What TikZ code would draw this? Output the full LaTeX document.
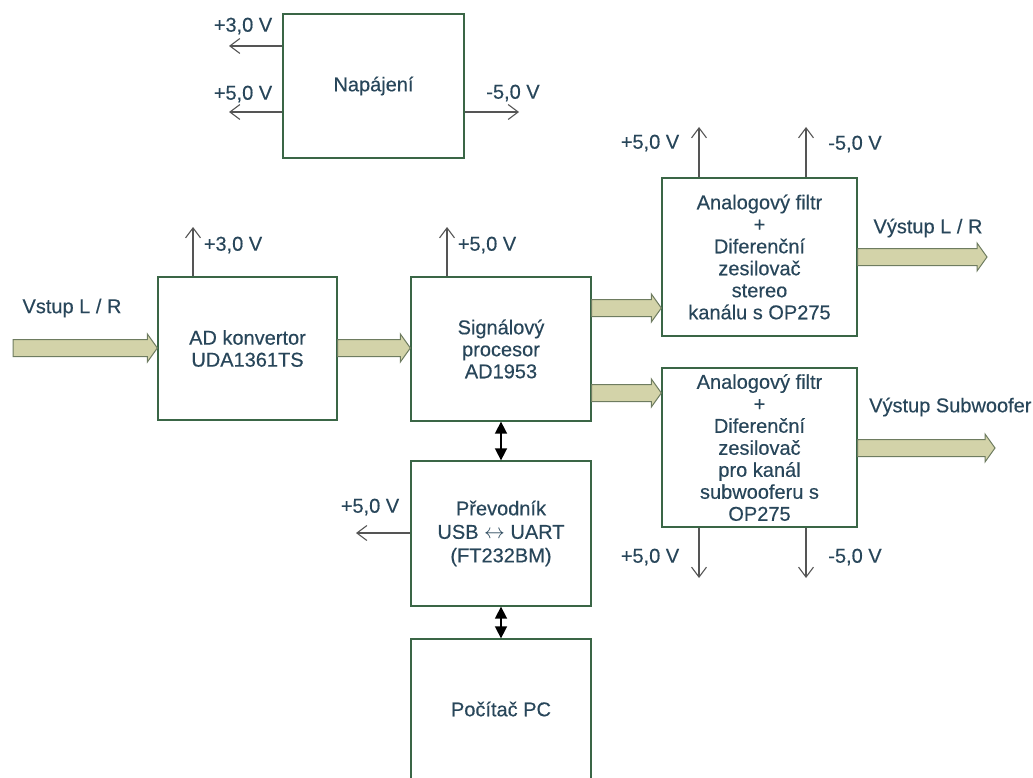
\documentclass[tikz,border=0pt]{standalone}
\usepackage{fontspec}
\setmainfont{Liberation Sans}[FakeBold=0.35]
\usetikzlibrary{calc,arrows.meta}
\definecolor{boxline}{HTML}{3A6646}
\definecolor{txt}{HTML}{28465A}
\definecolor{fatfill}{HTML}{D3D3A9}
\definecolor{fatline}{HTML}{6E7C60}
\definecolor{pwrline}{HTML}{555555}
% horizontal wide arrow from #1 to #2 (both named coordinates)
\newcommand{\fatarrow}[2]{%
  \draw[fatarrow] ($(#1)+(0,-8.5)$) -- ($(#2)+(-10,-8.5)$) -- ($(#2)+(-10,-14)$)
    -- (#2) -- ($(#2)+(-10,14)$) -- ($(#2)+(-10,8.5)$) -- ($(#1)+(0,8.5)$) -- cycle;}
\begin{document}
\begin{tikzpicture}[x=1pt,y=-1pt,
  block/.style={draw=boxline,line width=1.3pt,fill=white,align=center,
    text=txt,inner sep=0pt,font=\fontsize{20}{22}\selectfont},
  lbl/.style={text=txt,inner sep=0pt,font=\fontsize{20}{22}\selectfont},
  pwr/.style={draw=pwrline,line width=1.1pt,-{Straight Barb[length=10pt,width=15pt]}},
  bidir/.style={draw=black,line width=1.6pt,{Triangle[length=12pt,width=12pt]}-{Triangle[length=12pt,width=12pt]}},
  fatarrow/.style={draw=fatline,fill=fatfill,line width=1pt,line join=miter}]
\useasboundingbox (0,0) rectangle (1033,778);

% blocks
\node[block,minimum width=181,minimum height=144] (nap) at (373.5,86) {Napájení};
\node[block,minimum width=179,minimum height=143] (adc) at (247.5,348.5) {AD konvertor\\UDA1361TS};
\node[block,minimum width=180,minimum height=144] (dsp) at (501,349) {Signálový\\procesor\\AD1953};
\node[block,minimum width=195,minimum height=158] (f1) at (759.5,257)
  {Analogový filtr\\+\\Diferenční\\zesilovač\\stereo\\kanálu s OP275};
\node[block,minimum width=195,minimum height=159] (f2) at (759.5,447.5)
  {Analogový filtr\\+\\Diferenční\\zesilovač\\pro kanál\\subwooferu s\\OP275};
\node[block,minimum width=180,minimum height=145,font=\fontsize{20}{23.5}\selectfont] (usb) at (501,533.5)
  {Převodník\\USB $\leftrightarrow$ UART\\(FT232BM)};
\node[block,minimum width=180,minimum height=162] (pc) at (501,720) {};
\node[lbl] (pctext) at (501,709) {Počítač PC};

% supply outputs of Napájení
\coordinate (n3) at (229,46);
\coordinate (n5) at (229,112);
\coordinate (nm5) at (519,112);
\draw[pwr] (nap.west |- n3) -- (n3);
\draw[pwr] (nap.west |- n5) -- (n5);
\draw[pwr] (nap.east |- nm5) -- (nm5);
\node[lbl] (ln3) at (243,26) {+3,0 V};
\node[lbl] (ln5) at (243,94) {+5,0 V};
\node[lbl] (lnm5) at (513,93) {-5,0 V};

% supply inputs of the blocks
\coordinate (a3) at (193,227);
\draw[pwr] (adc.north -| a3) -- (a3);
\node[lbl] (la3) at (233,245) {+3,0 V};
\coordinate (d5) at (447,227);
\draw[pwr] (dsp.north -| d5) -- (d5);
\node[lbl] (ld5) at (487,245) {+5,0 V};
\coordinate (f1p) at (699,127);
\coordinate (f1m) at (806,127);
\draw[pwr] (f1.north -| f1p) -- (f1p);
\draw[pwr] (f1.north -| f1m) -- (f1m);
\node[lbl] (lf1p) at (650,143) {+5,0 V};
\node[lbl] (lf1m) at (855,144) {-5,0 V};
\coordinate (f2p) at (699,578);
\coordinate (f2m) at (806,578);
\draw[pwr] (f2.south -| f2p) -- (f2p);
\draw[pwr] (f2.south -| f2m) -- (f2m);
\node[lbl] (lf2p) at (650,557) {+5,0 V};
\node[lbl] (lf2m) at (855,557) {-5,0 V};
\coordinate (u5) at (356,533);
\draw[pwr] (usb.west |- u5) -- (u5);
\node[lbl] (lu5) at (370,507) {+5,0 V};

% signal path
\coordinate (vin) at (13,348);
\coordinate (adcin) at (adc.west |- vin);
\coordinate (adcout) at (adc.east |- vin);
\coordinate (dspin) at (dsp.west |- vin);
\coordinate (y308) at (0,308);
\coordinate (y393) at (0,393);
\coordinate (dspo1) at (dsp.east |- y308);
\coordinate (f1in) at (f1.west |- y308);
\coordinate (dspo2) at (dsp.east |- y393);
\coordinate (f2in) at (f2.west |- y393);
\coordinate (vout1) at (987,257);
\coordinate (f1out) at (f1.east |- vout1);
\coordinate (vout2) at (995,448);
\coordinate (f2out) at (f2.east |- vout2);
\fatarrow{vin}{adcin}
\fatarrow{adcout}{dspin}
\fatarrow{dspo1}{f1in}
\fatarrow{dspo2}{f2in}
\fatarrow{f1out}{vout1}
\fatarrow{f2out}{vout2}
\node[lbl] (lin) at (72,308) {Vstup L / R};
\node[lbl] (lout1) at (928,228) {Výstup L / R};
\node[lbl,anchor=west] (lout2) at (869,407) {Výstup Subwoofer};

% data links
\draw[bidir] (dsp.south) -- (usb.north);
\draw[bidir] (usb.south) -- (pc.north);
\end{tikzpicture}
\end{document}
